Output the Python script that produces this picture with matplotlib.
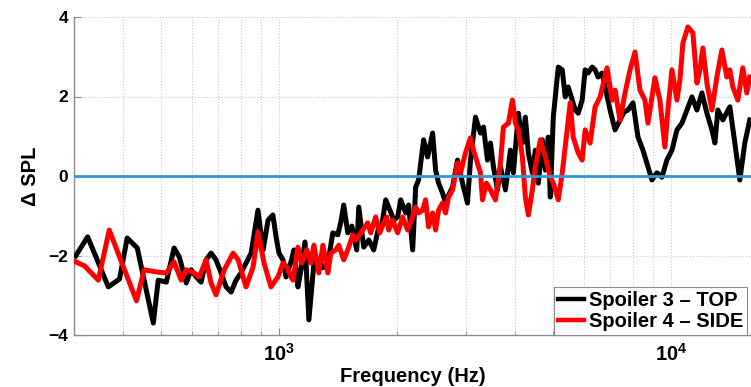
import matplotlib
matplotlib.use("Agg")
import matplotlib.pyplot as plt
from matplotlib.ticker import LogLocator, NullFormatter

plt.rcParams['font.family'] = ['Liberation Sans', 'DejaVu Sans']
plt.rcParams['font.weight'] = 'bold'
plt.rcParams['mathtext.fontset'] = 'custom'
plt.rcParams['mathtext.rm'] = 'Liberation Sans:bold'
plt.rcParams['mathtext.bf'] = 'Liberation Sans:bold'

# Data (frequency in Hz, delta SPL)
freq_top = [303, 325, 367, 392, 410, 435, 478, 492, 516, 540, 557, 580, 597, 615, 633,
            652, 671, 691, 712, 733, 755, 777, 800, 824, 849, 884, 911, 938, 965, 983,
            1000, 1024, 1042, 1073, 1092, 1118, 1138, 1165, 1192, 1228, 1264, 1294, 1333,
            1372, 1413, 1438, 1463, 1498, 1534, 1579, 1598, 1645, 1694, 1745, 1797, 1829,
            1872, 1928, 1962, 2008, 2044, 2105, 2142, 2193, 2232, 2271, 2339, 2394, 2466,
            2509, 2554, 2614, 2660, 2708, 2772, 2854, 2939, 3026, 3080, 3172, 3266, 3324,
            3403, 3463, 3525, 3609, 3673, 3782, 3894, 3963, 4081, 4178, 4251, 4327, 4429,
            4508, 4588, 4696, 4780, 4864, 4922, 5009, 5158, 5280, 5373, 5468, 5598, 5698,
            5800, 5935, 6040, 6147, 6293, 6404, 6518, 6673, 6790, 6992, 7200, 7414, 7590,
            7770, 8000, 8238, 8483, 8735, 8942, 9207, 9481, 9762, 10058, 10358, 10666,
            10983, 11309, 11646, 11992, 12349, 12716, 12942, 13171, 13563, 14130, 14551,
            14983, 15429, 15886]
spl_top = [-2.01, -1.53, -2.79, -2.59, -1.56, -1.81, -3.70, -2.62, -2.67, -1.81, -2.04,
           -2.69, -2.36, -2.54, -2.67, -2.11, -1.94, -2.11, -2.44, -2.79, -2.92, -2.62,
           -2.44, -2.19, -1.94, -0.86, -1.86, -1.11, -0.98, -1.53, -1.94, -2.11, -2.54,
           -2.16, -1.86, -2.79, -2.36, -1.66, -3.62, -2.19, -2.11, -2.31, -2.19, -1.43,
           -1.48, -1.16, -0.73, -1.43, -1.26, -1.86, -0.78, -1.79, -1.61, -1.86, -1.28,
           -1.23, -0.60, -0.91, -1.11, -1.03, -0.60, -0.93, -0.73, -1.86, -0.28, -0.10,
           0.91, 0.48, 1.08, 0.15, -0.18, -0.43, -0.68, -0.48, -0.28, 0.40, -0.18, -0.68,
           0.40, 1.48, 1.08, 1.23, 0.40, 0.83, 0.23, -0.35, 0.23, -0.35, 0.65, 0.08, 1.58,
           0.83, 1.48, 0.58, 0.08, 0.65, -0.18, 0.91, 0.15, 0.98, -0.53, 1.48, 2.74, 2.67,
           1.99, 2.24, 1.91, 1.66, 1.58, 1.91, 2.67, 2.59, 2.74, 2.67, 2.49, 2.59, 2.24,
           1.66, 1.16, 1.41, 1.61, 1.66, 1.84, 0.98, 0.65, 0.23, -0.10, 0.08, -0.03, 0.40,
           0.65, 1.16, 1.33, 1.66, 1.99, 1.66, 2.09, 1.58, 1.16, 0.83, 1.66, 1.41, 1.74,
           0.83, -0.10, 0.83, 1.41]

freq_side = [303, 319, 346, 369, 433, 453, 492, 516, 540, 563, 580, 604, 626, 652, 671,
             691, 725, 764, 787, 824, 859, 884, 916, 954, 994, 1024, 1048, 1073, 1086,
             1118, 1144, 1178, 1206, 1228, 1264, 1294, 1333, 1356, 1396, 1421, 1463, 1507,
             1543, 1570, 1636, 1684, 1714, 1765, 1807, 1850, 1883, 1905, 1950, 2008, 2068,
             2129, 2180, 2232, 2271, 2325, 2366, 2408, 2466, 2509, 2554, 2614, 2660, 2708,
             2772, 2854, 2905, 2991, 3080, 3135, 3209, 3266, 3305, 3383, 3463, 3567, 3673,
             3737, 3849, 3940, 4010, 4081, 4178, 4251, 4327, 4429, 4508, 4642, 4780, 4922,
             5009, 5158, 5280, 5373, 5533, 5631, 5800, 5935, 6040, 6220, 6404, 6595, 6871,
             7075, 7200, 7414, 7635, 7861, 8095, 8335, 8583, 8735, 8942, 9100, 9370, 9648,
             9820, 10058, 10358, 10541, 10728, 11048, 11376, 11646, 11852, 12063, 12349,
             12716, 13093, 13484, 13885, 14130, 14382, 14810, 15249, 15611, 15886]
spl_side = [-2.16, -2.26, -2.62, -1.36, -3.14, -2.36, -2.42, -2.44, -2.16, -2.62, -2.36,
            -2.42, -2.54, -2.11, -2.69, -2.99, -2.36, -1.94, -2.11, -2.79, -2.29, -1.41,
            -2.19, -2.79, -2.54, -2.19, -2.29, -2.54, -2.62, -1.79, -2.19, -1.86, -2.19,
            -1.74, -2.44, -1.74, -2.44, -1.94, -1.86, -1.74, -2.11, -1.79, -1.48, -1.61,
            -1.36, -1.18, -1.43, -1.03, -1.43, -1.18, -1.03, -1.36, -1.11, -1.43, -1.03,
            -1.36, -1.11, -0.78, -0.93, -0.86, -0.60, -1.28, -0.93, -1.36, -0.86, -0.68,
            -0.93, -0.53, -0.35, 0.33, 0.08, 0.58, 0.96, 0.65, 0.33, 0.08, -0.60, -0.18,
            -0.35, -0.60, 0.33, 1.23, 1.33, 1.91, 1.33, 1.16, 0.48, -0.53, -0.98, -0.35,
            0.23, 0.91, 0.48, -0.03, -0.18, -0.60, 0.08, 0.73, 1.84, 0.98, 0.58, 0.40, 1.16,
            0.83, 1.74, 1.99, 2.72, 1.91, 2.16, 1.41, 2.09, 2.67, 3.12, 2.16, 1.91, 1.33,
            1.99, 2.47, 1.91, 0.73, 1.66, 2.67, 1.91, 2.42, 3.35, 3.75, 3.60, 2.34, 2.67,
            3.22, 2.34, 1.66, 2.49, 3.17, 2.49, 2.67, 2.24, 1.91, 2.72, 2.09, 2.49]

labels = ["Spoiler 3 \u2013 TOP", "Spoiler 4 \u2013 SIDE"]

fig = plt.figure(figsize=(7.51, 3.87), dpi=100)
ax = fig.add_axes([74 / 751, 52 / 387, 677 / 751, 318 / 387])

ax.semilogx(freq_top, spl_top, color='black', lw=3.6, label=labels[0], zorder=3)
ax.semilogx(freq_side, spl_side, color='red', lw=3.6, label=labels[1], zorder=4)
ax.axhline(0, color='#2f96d8', lw=2, zorder=5)

ax.set_xlim(300, 16000)
ax.set_ylim(-4, 4)
ax.set_yticks([-4, -2, 0, 2, 4])
ax.set_xticks([1000, 10000])
ax.set_xticklabels([r'$\mathbf{10^3}$', r'$\mathbf{10^4}$'])
ax.xaxis.set_minor_locator(LogLocator(base=10, subs=range(2, 10)))
ax.xaxis.set_minor_formatter(NullFormatter())

ax.grid(True, which='both', axis='x', ls=':', color='#c8c8c8', lw=0.8, zorder=0)
ax.grid(True, which='major', axis='y', ls=':', color='#c8c8c8', lw=0.8, zorder=0)

for s in ['top', 'right']:
    ax.spines[s].set_visible(False)
for s in ['left', 'bottom']:
    ax.spines[s].set_color('#8c8c8c')
    ax.spines[s].set_linewidth(1.0)

ax.tick_params(which='major', direction='in', length=5, color='#8c8c8c',
               labelsize=12.5, pad=4)
ax.tick_params(axis='x', which='major', labelsize=14.5, pad=6)
ax.tick_params(which='minor', direction='in', length=3, color='#8c8c8c')

ax.set_xlabel("Frequency (Hz)", fontsize=14.5, fontweight='bold', labelpad=1)
ax.set_ylabel("\u0394 SPL", fontsize=14.5, fontweight='bold', labelpad=6)

leg = ax.legend(loc='lower right', bbox_to_anchor=(747 / 751, 52 / 387),
                bbox_transform=fig.transFigure, borderaxespad=0,
                fontsize=14.5, handlelength=1.25, handletextpad=0.25,
                labelspacing=0.1, borderpad=0.2, fancybox=False,
                framealpha=1, edgecolor='#8c8c8c')
leg.get_frame().set_linewidth(0.8)
for line in leg.get_lines():
    line.set_linewidth(3.2)

fig.savefig("out.png", dpi=100)
